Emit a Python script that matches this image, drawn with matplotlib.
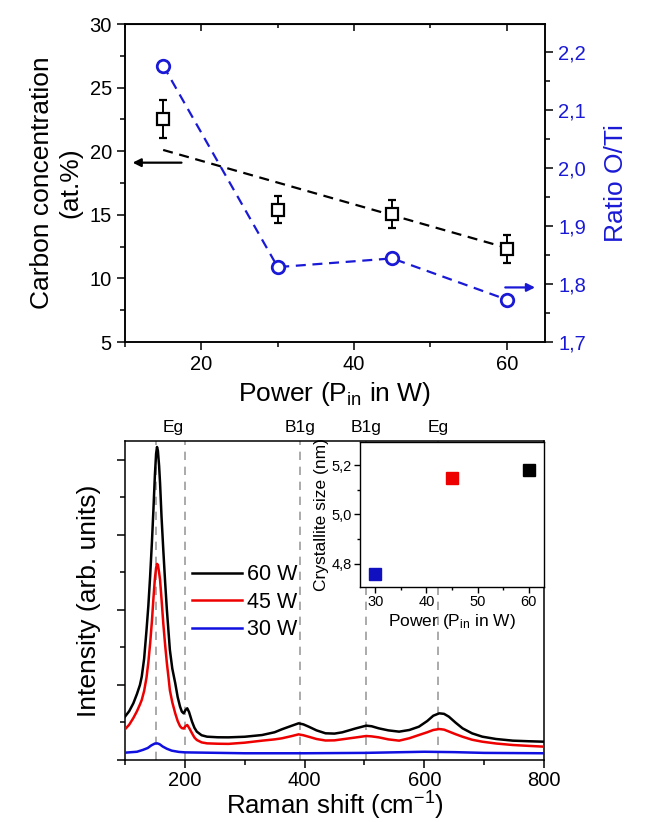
import matplotlib
matplotlib.use("Agg")
import matplotlib.pyplot as plt
from matplotlib.ticker import MultipleLocator, FuncFormatter, NullFormatter
import matplotlib.transforms as mtransforms

plt.rcParams['font.family'] = ['Liberation Sans', 'DejaVu Sans']
plt.rcParams['mathtext.fontset'] = 'custom'
plt.rcParams['mathtext.rm'] = 'Liberation Sans'
plt.rcParams['mathtext.it'] = 'Liberation Sans:italic'
plt.rcParams['mathtext.bf'] = 'Liberation Sans:bold'

# ---------------- data: top panel ----------------
power = [15, 30, 45, 60]
carbon = [22.5, 15.4, 15.1, 12.3]
carbon_err = [1.5, 1.05, 1.1, 1.1]
ratio_oti = [2.176, 1.829, 1.844, 1.773]
carbon_trend_x = [15, 60]
carbon_trend_y = [20.1, 12.4]

# ---------------- data: Raman spectra ----------------
raman_x = [100, 107, 114, 120, 125, 128, 132, 136, 139, 142, 145, 147.5, 150, 152,
           153.5, 155, 157, 158.6, 161, 164, 167, 170, 173, 175, 179, 184, 188, 192,
           195, 198, 201, 204, 207, 212, 216, 220, 228, 237, 255, 273, 300, 329, 350,
           362, 378, 390, 398, 407, 420, 435, 450, 463, 485, 503, 512, 524, 540, 558,
           575, 591, 605, 615, 625, 633, 641, 652, 664, 680, 697, 720, 748, 775, 800]
int_60 = [0.578, 0.65, 0.756, 0.88, 1.0, 1.111, 1.35, 1.733, 2.05, 2.444, 2.9, 3.333,
          3.8, 4.08, 4.17, 4.12, 3.92, 3.689, 3.25, 2.8, 2.38, 2.0, 1.68, 1.467, 1.22,
          1.022, 0.84, 0.711, 0.645, 0.622, 0.665, 0.689, 0.64, 0.511, 0.43, 0.378,
          0.33, 0.311, 0.303, 0.302, 0.31, 0.333, 0.37, 0.409, 0.455, 0.489, 0.475,
          0.444, 0.395, 0.356, 0.352, 0.369, 0.42, 0.458, 0.45, 0.422, 0.395, 0.378,
          0.4, 0.444, 0.52, 0.59, 0.622, 0.615, 0.578, 0.5, 0.422, 0.355, 0.311, 0.28,
          0.258, 0.25, 0.244]
int_45 = [0.409, 0.47, 0.56, 0.65, 0.74, 0.80, 0.92, 1.10, 1.3, 1.55, 1.85, 2.15,
          2.42, 2.56, 2.613, 2.6, 2.5, 2.40, 2.15, 1.82, 1.54, 1.29, 1.08, 0.93, 0.77,
          0.62, 0.52, 0.45, 0.425, 0.42, 0.45, 0.467, 0.43, 0.356, 0.3, 0.267, 0.235,
          0.222, 0.217, 0.215, 0.231, 0.258, 0.275, 0.289, 0.318, 0.342, 0.33, 0.31,
          0.28, 0.26, 0.262, 0.276, 0.3, 0.32, 0.315, 0.302, 0.275, 0.258, 0.29, 0.333,
          0.37, 0.4, 0.413, 0.405, 0.38, 0.345, 0.31, 0.27, 0.244, 0.22, 0.2, 0.188,
          0.178]
raman_x_30 = [100, 120, 130, 138, 144, 150, 154, 158, 163, 170, 178, 190, 200, 300,
              400, 500, 600, 650, 700, 800]
int_30 = [0.098, 0.11, 0.135, 0.16, 0.195, 0.22, 0.222, 0.21, 0.18, 0.15, 0.125,
          0.108, 0.102, 0.09, 0.09, 0.095, 0.11, 0.105, 0.095, 0.09]
spectra_labels = ['60 W', '45 W', '30 W']
peak_pos = [151, 200, 392, 503, 623]
peak_label_x = [180, 392, 503, 623]
peak_labels = ['Eg', 'B1g', 'B1g', 'Eg']

# ---------------- data: inset ----------------
inset_power = [30, 45, 60]
crystallite = [4.757, 5.15, 5.183]

BLUE = '#1a1ad6'
LABEL_FS = 19
TICK_FS = 14.5
comma = FuncFormatter(lambda v, p: f"{v:.1f}".replace('.', ','))

fig = plt.figure(figsize=(6.54, 8.22), dpi=100)

# ================= top panel =================
ax1 = fig.add_axes([0.1911, 0.5839, 0.6422, 0.3869])
ax1.plot(carbon_trend_x, carbon_trend_y, ls=(0, (4.5, 3)), color='black', lw=1.6)
ax1.errorbar(power, carbon, yerr=carbon_err, fmt='s', mfc='white', mec='black',
             color='black', ms=8, mew=1.6, capsize=3, elinewidth=1.4, capthick=1.4,
             zorder=5)
ax1.set_xlim(10, 65)
ax1.set_ylim(5, 30)
ax1.xaxis.set_major_locator(MultipleLocator(20))
ax1.xaxis.set_minor_locator(MultipleLocator(10))
ax1.yaxis.set_major_locator(MultipleLocator(5))
ax1.yaxis.set_minor_locator(MultipleLocator(2.5))
ax1.tick_params(which='major', direction='out', length=6, width=1.1, labelsize=TICK_FS)
ax1.tick_params(which='minor', direction='out', length=3.5, width=1.1)
ax1.set_xlabel('Power (P$_{\\mathregular{in}}$ in W)', fontsize=LABEL_FS, labelpad=4)
ax1.set_ylabel('Carbon concentration\n(at.%)', fontsize=LABEL_FS, labelpad=5,
               linespacing=1.25)
ax1.annotate('', xy=(11.0, 19.1), xytext=(17.4, 19.1),
             arrowprops=dict(arrowstyle='-|>', color='black', lw=1.6,
                             mutation_scale=12, shrinkA=0, shrinkB=0))
secx = ax1.secondary_xaxis('top')
secx.xaxis.set_major_locator(MultipleLocator(20))
secx.xaxis.set_minor_locator(MultipleLocator(10))
secx.tick_params(which='major', direction='in', length=5, width=1.1, labeltop=False)
secx.tick_params(which='minor', direction='in', length=3, width=1.1)
secx.xaxis.set_major_formatter(NullFormatter())

ax2 = ax1.twinx()
ax2.plot(power, ratio_oti, ls=(0, (4.5, 3)), color=BLUE, lw=1.6, marker='o',
         mfc='white', mec=BLUE, ms=9, mew=2, zorder=4)
ax2.set_ylim(1.7, 2.2475)
ax2.yaxis.set_major_locator(MultipleLocator(0.1))
ax2.yaxis.set_minor_locator(MultipleLocator(0.05))
ax2.yaxis.set_major_formatter(comma)
ax2.tick_params(which='major', direction='out', length=6, width=1.1, labelsize=TICK_FS,
                labelcolor=BLUE)
ax2.tick_params(which='minor', direction='out', length=3.5, width=1.1)
ax2.set_ylabel('Ratio O/Ti', fontsize=LABEL_FS, color=BLUE, labelpad=13)
ax2.annotate('', xy=(63.7, 1.794), xytext=(59.8, 1.794),
             arrowprops=dict(arrowstyle='-|>', color=BLUE, lw=1.6,
                             mutation_scale=12, shrinkA=0, shrinkB=0))
for a in (ax1, ax2):
    for s in a.spines.values():
        s.set_linewidth(1.1)

# ================= bottom panel =================
ax3 = fig.add_axes([0.1911, 0.0754, 0.6407, 0.3881])
for p in peak_pos:
    ax3.axvline(p, color='#9c9c9c', lw=1.2, ls=(0, (5, 4)), zorder=1)
l60, = ax3.plot(raman_x, int_60, color='black', lw=1.8, zorder=3)
l45, = ax3.plot(raman_x, int_45, color='#ee0000', lw=1.8, zorder=3)
l30, = ax3.plot(raman_x_30, int_30, color='#1010e0', lw=1.8, zorder=3)
ax3.set_xlim(100, 800)
ax3.set_ylim(0, 4.25)
ax3.xaxis.set_major_locator(MultipleLocator(200))
ax3.xaxis.set_minor_locator(MultipleLocator(100))
ax3.yaxis.set_major_locator(MultipleLocator(1))
ax3.yaxis.set_minor_locator(MultipleLocator(0.5))
ax3.yaxis.set_major_formatter(NullFormatter())
ax3.tick_params(which='major', direction='out', length=6, width=1.1, labelsize=TICK_FS,
                pad=2)
ax3.tick_params(which='minor', direction='out', length=3.5, width=1.1)
ax3.set_xlabel('Raman shift (cm$^{\\mathregular{-1}}$)', fontsize=18.5, labelpad=0)
ax3.set_ylabel('Intensity (arb. units)', fontsize=LABEL_FS, labelpad=9)
for s in ax3.spines.values():
    s.set_linewidth(1.1)
trans = mtransforms.blended_transform_factory(ax3.transData, ax3.transAxes)
for xp, lab in zip(peak_label_x, peak_labels):
    ax3.text(xp, 1.018, lab, transform=trans, ha='center', va='bottom', fontsize=12.5)
leg = ax3.legend([l60, l45, l30], spectra_labels, loc='upper left',
                 bbox_to_anchor=(0.14, 0.64), frameon=False, fontsize=15.5,
                 handlelength=2.3, handletextpad=0.25, labelspacing=0.3,
                 borderaxespad=0)

# ================= inset =================
ax4 = fig.add_axes([0.5505, 0.2859, 0.2813, 0.1764], facecolor='white', zorder=5)
for xp, yv, c in zip(inset_power, crystallite, ['#1010c0', '#ee0000', 'black']):
    ax4.plot([xp], [yv], 's', color=c, ms=8.5, zorder=3)
ax4.set_xlim(27, 63)
ax4.set_ylim(4.705, 5.295)
ax4.xaxis.set_major_locator(MultipleLocator(10))
ax4.xaxis.set_minor_locator(MultipleLocator(5))
ax4.yaxis.set_major_locator(MultipleLocator(0.2))
ax4.yaxis.set_minor_locator(MultipleLocator(0.1))
ax4.yaxis.set_major_formatter(comma)
ax4.tick_params(which='major', direction='out', length=4, width=1.0, labelsize=10.5, pad=2)
ax4.tick_params(which='minor', direction='out', length=2.5, width=1.0)
ax4.set_xlabel('Power (P$_{\\mathregular{in}}$ in W)', fontsize=12.5, labelpad=2)
ax4.set_ylabel('Crystallite size (nm)', fontsize=12.5, labelpad=2)
for s in ax4.spines.values():
    s.set_linewidth(1.0)

fig.savefig('out.png', dpi=100)
